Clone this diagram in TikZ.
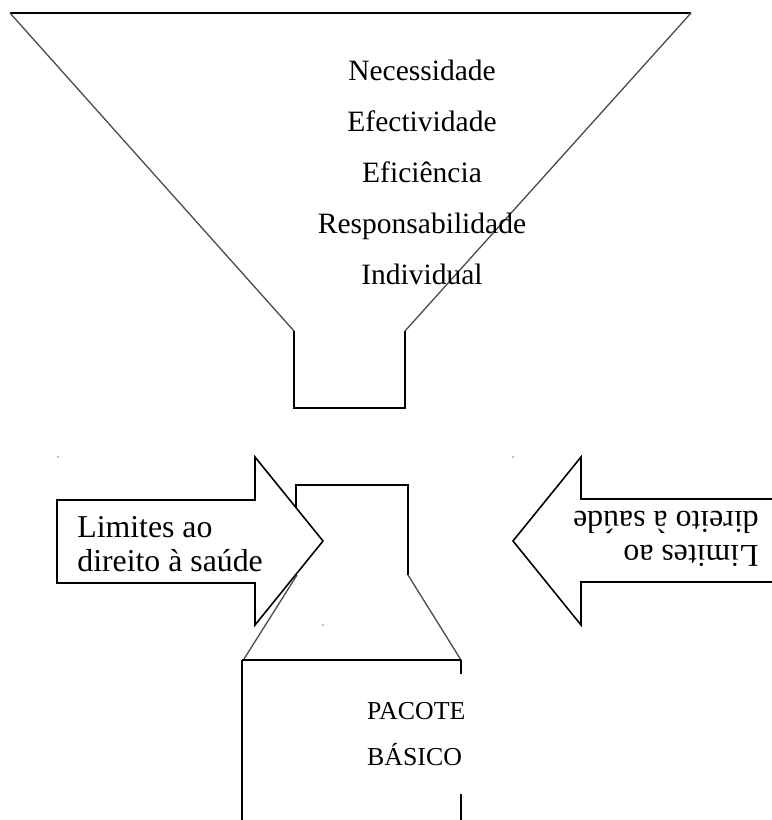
\documentclass[tikz,border=0pt]{standalone}
\usepackage{fontspec}
\setmainfont{Liberation Serif}
\begin{document}
\begin{tikzpicture}[x=0.02cm, y=-0.02cm,
    outline/.style={draw=black, line width=0.9pt},
    slant/.style={draw=black!70, line width=0.75pt},
    blockarrow/.style={draw=black, fill=white, line width=0.9pt},
    criterion/.style={font=\fontsize{16.8}{20}\selectfont, anchor=base, inner sep=0pt},
    limittext/.style={font=\fontsize{18.1}{20}\selectfont, anchor=base west, inner sep=0pt},
    packagetext/.style={font=\fontsize{14.7}{26.1}\selectfont, align=left, fill=white,
        text width=57.8pt, inner xsep=9.6pt, inner ysep=0pt, minimum height=68.6pt}]
    \useasboundingbox (0,0) rectangle (771,820);

    % Funnel
    \draw[outline, line width=1.3pt] (10,13) -- (691,13);
    \draw[slant] (10,13) -- (294,331);
    \draw[slant] (691,13) -- (405,331);
    \draw[outline] (294,331) -- (294,408) -- (405,408) -- (405,331);

    % Nodes
    \node[criterion] (nec) at (422,81) {Necessidade};
    \node[criterion] (efe) at (422,132) {Efectividade};
    \node[criterion] (efi) at (422,183) {Eficiência};
    \node[criterion] (resp) at (422,234) {Responsabilidade};
    \node[criterion] (ind) at (422,285) {Individual};

    % Basic package
    \draw[outline] (296,575) -- (296,485) -- (408,485) -- (408,575);
    \draw[slant] (408,575) -- (461,660);
    \draw[slant] (297,575) -- (244,659);
    \draw[outline] (242,660) -- (461,660);
    \draw[outline] (242,660) -- (242,822);
    \draw[outline] (461,660) -- (461,822);

    % Left arrow
    \draw[blockarrow] (57,500) -- (255,500) -- (255,457) -- (323,541)
        -- (255,625) -- (255,583) -- (57,583) -- cycle;
    \fill (58,457) circle (0.7);
    \fill (323,625) circle (0.7);
    \node[limittext] (limL1) at (77,537) {Limites ao};
    \node[limittext] (limL2) at (77,571) {direito à saúde};

    % Right arrow, same shape turned round
    \begin{scope}[rotate around={180:(418,541)}, transform shape]
        \draw[blockarrow] (57,500) -- (255,500) -- (255,457) -- (323,541)
            -- (255,625) -- (255,583) -- (57,583) -- cycle;
        \fill (323,625) circle (0.7);
        \node[limittext] (limR1) at (77,537) {Limites ao};
        \node[limittext] (limR2) at (77,571) {direito à saúde};
    \end{scope}

    \node[packagetext] (pacote) at (418,734) {PACOTE\\BÁSICO};
\end{tikzpicture}
\end{document}
